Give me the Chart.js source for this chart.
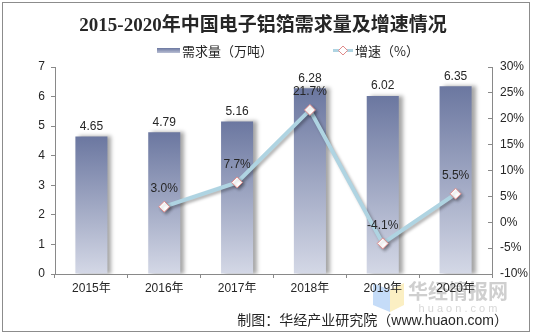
<!DOCTYPE html>
<html>
<head>
<meta charset="utf-8">
<script src="https://cdn.jsdelivr.net/npm/chart.js@4/dist/chart.umd.min.js"></script>
<style>
  html, body { margin: 0; padding: 0; background: #fff; }
  #wrap { width: 533px; height: 335px; position: relative; }
</style>
</head>
<body>
<div id="wrap"><canvas id="c" width="533" height="335"></canvas></div>
<script>
const years = ['2015年', '2016年', '2017年', '2018年', '2019年', '2020年'];
const demand = [4.65, 4.79, 5.16, 6.28, 6.02, 6.35];
const growth = [null, 3.0, 7.7, 21.7, -4.1, 5.5];
const demandLabel = '需求量（万吨）';
const growthLabel = '增速（%）';
const titleText = '2015-2020年中国电子铝箔需求量及增速情况';
const sourceText = '制图：华经产业研究院（www.huaon.com）';

const AXIS = '#898989';
const TXT = '#262626';
const NUM_FONT = '"Liberation Sans", Arial, "Noto Sans CJK SC", sans-serif';
const CJK_FONT = '"Noto Sans CJK SC", "Liberation Sans", sans-serif';

function barFill(ctx) {
  const chart = ctx.chart;
  if (!chart.chartArea || ctx.raw == null) return '#8f99b9';
  const y = chart.scales.y;
  const g = chart.ctx.createLinearGradient(0, y.getPixelForValue(ctx.raw), 0, y.getPixelForValue(0));
  g.addColorStop(0, '#6b77a0');
  g.addColorStop(1, '#d4d8e6');
  return g;
}

// shadows on bars and line
const shadows = {
  id: 'shadows',
  beforeDatasetDraw(chart, args) {
    const c = chart.ctx;
    c.save();
    if (args.meta.type === 'bar') {
      c.shadowColor = 'rgba(0,0,0,0.35)';
      c.shadowOffsetX = 4; c.shadowOffsetY = 0; c.shadowBlur = 4;
    } else {
      c.shadowColor = 'rgba(0,0,0,0.3)';
      c.shadowOffsetX = 2; c.shadowOffsetY = 2; c.shadowBlur = 3;
    }
  },
  afterDatasetDraw(chart) { chart.ctx.restore(); }
};

// value labels above bars and points
const valueLabels = {
  id: 'valueLabels',
  afterDatasetsDraw(chart) {
    const c = chart.ctx;
    c.save();
    c.font = '12px ' + NUM_FONT;
    c.fillStyle = TXT;
    c.textAlign = 'center';
    c.textBaseline = 'middle';
    chart.getDatasetMeta(1).data.forEach((el, i) => {
      c.fillText(demand[i].toFixed(2), el.x, el.y - 10);
    });
    chart.getDatasetMeta(0).data.forEach((el, i) => {
      if (growth[i] == null) return;
      c.fillText(growth[i].toFixed(1) + '%', el.x, el.y - 18);
    });
    c.restore();
  }
};

// frame, title, legend, source, watermark
const decor = {
  id: 'decor',
  beforeDraw(chart) {
    const c = chart.ctx;
    c.save();
    c.fillStyle = '#fff';
    c.fillRect(0, 0, chart.width, chart.height);
    // watermark
    c.globalAlpha = 0.45;
    c.fillStyle = '#7fb2f0';
    c.beginPath(); c.moveTo(373, 283); c.lineTo(390, 290); c.lineTo(390, 312); c.lineTo(373, 305); c.closePath(); c.fill();
    c.fillStyle = '#f7dc7a';
    c.beginPath(); c.moveTo(390, 290); c.lineTo(404, 283); c.lineTo(404, 305); c.lineTo(390, 312); c.closePath(); c.fill();
    c.globalAlpha = 1;
    c.fillStyle = '#cfcfcf';
    c.font = 'bold 20px ' + CJK_FONT;
    c.textAlign = 'center'; c.textBaseline = 'middle';
    c.fillText('华经情报网', 458, 291);
    c.fillStyle = '#d8d8d8';
    c.font = '11px ' + NUM_FONT;
    c.fillText('h u a o n . c o m', 458, 309);
    c.restore();
  },
  afterDraw(chart) {
    const c = chart.ctx;
    c.save();
    c.strokeStyle = '#8c8c8c';
    c.lineWidth = 1;
    c.strokeRect(2.5, 2.5, 527, 329);

    c.fillStyle = TXT;
    c.textBaseline = 'middle';
    c.textAlign = 'center';
    c.font = 'bold 19px "Liberation Serif", "Noto Sans CJK SC", serif';
    c.fillText(titleText, 263, 26);

    // legend
    c.textAlign = 'left';
    c.font = '13px ' + CJK_FONT;
    const g = c.createLinearGradient(0, 48, 0, 53);
    g.addColorStop(0, '#6b77a0'); g.addColorStop(1, '#b9bfd4');
    c.fillStyle = g;
    c.fillRect(157, 48, 23, 5);
    c.fillStyle = TXT;
    c.fillText(demandLabel, 182, 51);
    c.strokeStyle = '#afd4e2';
    c.lineWidth = 3;
    c.beginPath(); c.moveTo(333, 50.5); c.lineTo(353, 50.5); c.stroke();
    c.fillStyle = '#fff';
    c.strokeStyle = '#e08a8a';
    c.lineWidth = 1;
    c.beginPath(); c.moveTo(343, 46); c.lineTo(347.5, 50.5); c.lineTo(343, 55); c.lineTo(338.5, 50.5); c.closePath();
    c.fill(); c.stroke();
    c.fillStyle = TXT;
    c.fillText(growthLabel, 355, 51);

    // source
    c.textAlign = 'right';
    c.font = '14px ' + NUM_FONT;
    c.fillText(sourceText, 508, 321);
    c.restore();
  }
};

new Chart(document.getElementById('c'), {
  data: {
    labels: years,
    datasets: [
      {
        type: 'line',
        label: growthLabel,
        data: growth,
        yAxisID: 'y1',
        order: 0,
        borderColor: '#afd4e2',
        borderWidth: 4,
        pointStyle: 'rectRot',
        pointRadius: 5.5,
        pointHoverRadius: 5.5,
        pointBackgroundColor: '#fff',
        pointBorderColor: '#e08a8a',
        pointBorderWidth: 1,
        tension: 0,
        spanGaps: false
      },
      {
        type: 'bar',
        label: demandLabel,
        data: demand,
        yAxisID: 'y',
        order: 1,
        backgroundColor: barFill,
        categoryPercentage: 1,
        barPercentage: 0.44
      }
    ]
  },
  options: {
    responsive: false,
    animation: false,
    events: [],
    layout: { padding: { left: 10, right: 5, top: 67, bottom: 41 } },
    plugins: { legend: { display: false }, title: { display: false }, tooltip: { enabled: false } },
    scales: {
      x: {
        offset: true,
        grid: { display: true, drawOnChartArea: false, drawTicks: true, tickLength: 4, color: AXIS, offset: true },
        border: { display: true, color: AXIS },
        ticks: { font: { size: 12, family: NUM_FONT }, color: TXT, padding: 3, maxRotation: 0 },
        afterFit: s => { s.height = 20; }
      },
      y: {
        position: 'left',
        min: 0, max: 7,
        ticks: { stepSize: 1, font: { size: 12, family: NUM_FONT }, color: TXT, padding: 6 },
        grid: { display: true, drawOnChartArea: false, drawTicks: true, tickLength: 4, color: AXIS },
        border: { display: true, color: AXIS },
        afterFit: s => { s.width = 45; }
      },
      y1: {
        position: 'right',
        min: -10, max: 30,
        ticks: { stepSize: 5, callback: v => v + '%', font: { size: 12, family: NUM_FONT }, color: TXT, padding: 12 },
        grid: { display: true, drawOnChartArea: false, drawTicks: true, tickLength: -4, color: AXIS },
        border: { display: true, color: AXIS },
        afterFit: s => { s.width = 36; }
      }
    }
  },
  plugins: [decor, shadows, valueLabels]
});
</script>
</body>
</html>
